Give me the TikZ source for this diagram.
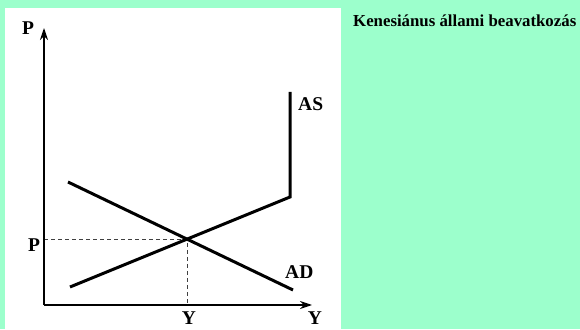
\documentclass[tikz,border=0pt]{standalone}
\usepackage{fontspec}
\setmainfont{Liberation Serif}
\usetikzlibrary{arrows.meta}
\definecolor{bggreen}{HTML}{9CFFCC}
\tikzset{
  curve/.style={line width=3pt, line cap=butt, line join=miter},
  axis/.style={line width=1.3pt, -{Stealth[length=12pt,width=8pt]}},
  guide/.style={line width=0.8pt, dash pattern=on 4pt off 3pt, black!75},
  lbl/.style={inner sep=0pt, font=\fontsize{19.5}{20}\selectfont\bfseries},
}
\begin{document}
\begin{tikzpicture}[x=1pt,y=1pt]
\useasboundingbox (0,0) rectangle (580,329);
\fill[bggreen] (0,0) rectangle (580,329);
\fill[white] (5,0) rectangle (341,321);
% points
\coordinate (O) at (44,24);
\coordinate (Ytop) at (44,301);
\coordinate (Xend) at (312,24);
\coordinate (E) at (187,90);
\coordinate (Pax) at (44,90);
\coordinate (Yax) at (187,24);
\coordinate (ASs) at (70,42);
\coordinate (ASk) at (290,132);
\coordinate (ASt) at (290,237);
\coordinate (ADs) at (68,147);
\coordinate (ADe) at (293,39);
% guides
\draw[guide] (Pax) -- (E) -- (Yax);
% axes
\draw[axis] (O) -- (Ytop);
\draw[axis] (O) -- (Xend);
% curves
\draw[curve] (ASs) -- (ASk) -- (ASt);
\draw[curve] (ADs) -- (ADe);
% labels
\node[lbl, anchor=base west] (lP) at (22,294) {P};
\node[lbl, anchor=base west] (lPe) at (28,77) {P};
\node[lbl, anchor=base west] (lAS) at (298,218) {AS};
\node[lbl, anchor=base west] (lAD) at (285,50) {AD};
\node[lbl, anchor=north] (lYe) at (189,17) {Y};
\node[lbl, anchor=north] (lY) at (315,17) {Y};
\node[inner sep=0pt, anchor=base west, font=\fontsize{16.8}{18}\selectfont\bfseries] (title) at (353,302) {Kenesiánus állami beavatkozás};
\end{tikzpicture}
\end{document}
